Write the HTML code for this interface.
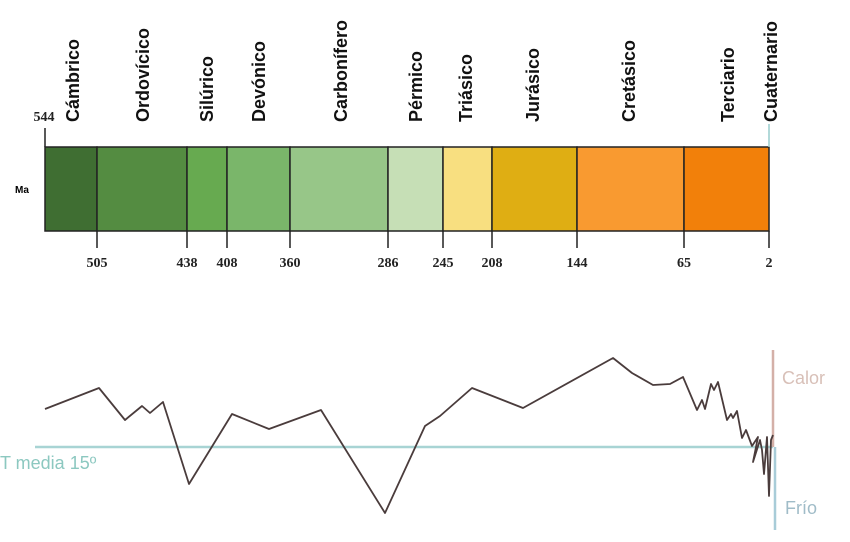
<!DOCTYPE html><html><head><meta charset="utf-8"><style>body{margin:0;background:#fff}svg{display:block}</style></head><body>
<svg width="850" height="542" xmlns="http://www.w3.org/2000/svg">
<g stroke="#222" stroke-width="1.5">
<rect x="45" y="147" width="52" height="84" fill="#3f6e32"/>
<rect x="97" y="147" width="90" height="84" fill="#548c41"/>
<rect x="187" y="147" width="40" height="84" fill="#67aa50"/>
<rect x="227" y="147" width="63" height="84" fill="#7ab66a"/>
<rect x="290" y="147" width="98" height="84" fill="#97c688"/>
<rect x="388" y="147" width="55" height="84" fill="#c6dfb6"/>
<rect x="443" y="147" width="49" height="84" fill="#f8df80"/>
<rect x="492" y="147" width="85" height="84" fill="#dfae13"/>
<rect x="577" y="147" width="107" height="84" fill="#f99a30"/>
<rect x="684" y="147" width="85" height="84" fill="#f2800a"/>
<path d="M45 147V128M97 231V248M187 231V248M227 231V248M290 231V248M388 231V248M443 231V248M492 231V248M577 231V248M684 231V248M769 231V248" fill="none"/>
</g>
<path d="M769 147V124" stroke="#9cc" stroke-width="1.5"/>
<g font-family="Liberation Sans, sans-serif" font-size="18" fill="#111" font-weight="bold">
<text transform="translate(79,122) rotate(-90)">Cámbrico</text>
<text transform="translate(149,122) rotate(-90)">Ordovícico</text>
<text transform="translate(213,122) rotate(-90)">Silúrico</text>
<text transform="translate(265,122) rotate(-90)">Devónico</text>
<text transform="translate(347,122) rotate(-90)">Carbonífero</text>
<text transform="translate(422,122) rotate(-90)">Pérmico</text>
<text transform="translate(472,122) rotate(-90)">Triásico</text>
<text transform="translate(539,122) rotate(-90)">Jurásico</text>
<text transform="translate(635,122) rotate(-90)">Cretásico</text>
<text transform="translate(734,122) rotate(-90)">Terciario</text>
<text transform="translate(777,122) rotate(-90)">Cuaternario</text>
</g>
<text x="15" y="193" font-family="Liberation Sans, sans-serif" font-size="10" font-weight="bold">Ma</text>
<g font-family="Liberation Serif, serif" font-size="14" font-weight="bold" fill="#222" text-anchor="middle">
<text x="44" y="121">544</text>
<text x="97" y="267">505</text><text x="187" y="267">438</text><text x="227" y="267">408</text><text x="290" y="267">360</text><text x="388" y="267">286</text><text x="443" y="267">245</text><text x="492" y="267">208</text><text x="577" y="267">144</text><text x="684" y="267">65</text><text x="769" y="267">2</text>
</g>
<line x1="35" y1="447" x2="773" y2="447" stroke="#a8d4d4" stroke-width="2.5"/>
<line x1="773" y1="350" x2="773" y2="447" stroke="#d4b0a8" stroke-width="2.5"/>
<line x1="775" y1="447" x2="775" y2="530" stroke="#a8ccd8" stroke-width="2.5"/>
<polyline fill="none" stroke="#4a3c3c" stroke-width="1.8" stroke-linejoin="round" points="45,409 99,388 125,420 142,406 150,413 163,402 189,484 232,414 269,429 321,410 385,513 425,426 440,416 472,388 523,408 613,358 632,373 653,385 670,384 683,377 697,410 702,400 705,409 711,384 714,390 718,382 727,420 731,414 733,418 737,411 742,438 746,430 752,446 758,437 753,462 760,440 762,450 764,474 767,437 769,496 771,440 773,435"/>
<g font-family="Liberation Sans, sans-serif" font-size="18">
<text x="782" y="384" fill="#d8c0b8">Calor</text>
<text x="785" y="514" fill="#a0bcc8">Frío</text>
<text x="0" y="469" fill="#8cc8c0">T media 15º</text>
</g>
</svg></body></html>
